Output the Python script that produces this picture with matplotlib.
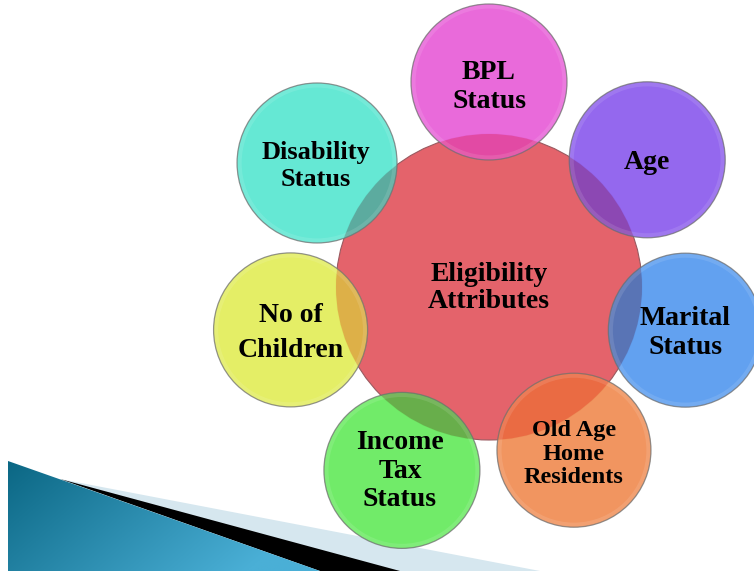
import numpy as np
import matplotlib
matplotlib.use("Agg")
import matplotlib.pyplot as plt
from matplotlib.patches import Circle, Polygon
from matplotlib.colors import to_rgb

# ---- data ----
center_label = "Eligibility\nAttributes"
labels = ["BPL\nStatus", "Age", "Marital\nStatus", "Old Age\nHome\nResidents",
          "Income\nTax\nStatus", "No of\nChildren", "Disability\nStatus"]
colors = ["#E964D9", "#9062EE", "#5C9DF0", "#F19159",
          "#6BEB63", "#E3EE60", "#5FE8D3"]
center_color = "#E4636B"

# ---- layout (pixels of a 754x571 canvas) ----
W, H = 754, 571
cx, cy, cr = 489, 287, 153
angles = [90, 38.8, -12.4, -62.5, -115.4, -167.8, 144.2]
dists = [205, 203, 201, 184, 203, 203, 212]
radii = [78, 78, 77, 77, 78, 77, 80]
fsizes = [20, 20, 20, 17.5, 20, 20, 19]
lspace = [1.2, 1.2, 1.2, 1.15, 1.18, 1.55, 1.2]
text_dx = [0, 0, 0, 0, -2, 0, -1]
text_dy = [5, 3, 3, 4, 1, 3, 3]

fig = plt.figure(figsize=(W / 100, H / 100), dpi=100)
ax = fig.add_axes([0, 0, 1, 1])
ax.set_xlim(0, W)
ax.set_ylim(H, 0)
ax.set_aspect("equal")
ax.axis("off")

# ---- bottom-left decoration ----
light = Polygon([(60, 479), (540, 571), (320, 571)], closed=True,
                facecolor="#D6E7EF", edgecolor="none", zorder=1)
ax.add_patch(light)
black = Polygon([(60, 479), (400, 571), (320, 571)], closed=True,
                facecolor="black", edgecolor="none", zorder=2)
ax.add_patch(black)
blue_poly = Polygon([(8, 461), (320, 571), (8, 571)], closed=True,
                    facecolor="none", edgecolor="none", zorder=3)
ax.add_patch(blue_poly)
gx, gy = np.meshgrid(np.linspace(0, 1, 200), np.linspace(0, 1, 100))
t = np.clip(0.85 * gx + 0.35 * gy, 0, 1)
c0 = np.array(to_rgb("#0B6784"))
c1 = np.array(to_rgb("#4AAFD6"))
grad = c0[None, None, :] * (1 - t[..., None]) + c1[None, None, :] * t[..., None]
im = ax.imshow(grad, extent=(8, 320, 571, 461), origin="upper",
               zorder=3, aspect="auto")
im.set_clip_path(blue_poly)

# ---- central circle ----
central = Circle((cx, cy), cr, facecolor=center_color, edgecolor="#9a5a60",
                 lw=0.8, zorder=5)
ax.add_patch(central)
ax.text(cx, cy + 1, center_label, ha="center", va="center", fontsize=20,
        fontweight="bold", family="Liberation Serif", linespacing=1.15,
        color="black", zorder=20)

crgb = np.array(to_rgb(center_color))
for i, (lab, col) in enumerate(zip(labels, colors)):
    a, d, r = angles[i], dists[i], radii[i]
    x = cx + d * np.cos(np.radians(a))
    y = cy - d * np.sin(np.radians(a))
    rgb = np.array(to_rgb(col))
    c = Circle((x, y), r, facecolor=col, edgecolor="none", alpha=0.96,
               zorder=6)
    ax.add_patch(c)
    ov_col = np.clip(rgb * (0.55 + 0.45 * crgb) * 1.02, 0, 1)
    ov = Circle((x, y), r, facecolor=ov_col, edgecolor="none", zorder=7)
    ax.add_patch(ov)
    ov.set_clip_path(central)
    # subtle glass rim
    rim = Circle((x, y), r - 2.5, facecolor="none", edgecolor="white",
                 lw=3, alpha=0.11, zorder=8)
    ax.add_patch(rim)
    edge = Circle((x, y), r, facecolor="none", edgecolor="#707070", lw=0.9,
                  alpha=0.75, zorder=9)
    ax.add_patch(edge)
    ax.text(x + text_dx[i], y + text_dy[i], lab, ha="center", va="center",
            fontsize=fsizes[i], fontweight="bold", family="Liberation Serif",
            linespacing=lspace[i], color="black", zorder=20)

fig.savefig("out.png", dpi=100)
